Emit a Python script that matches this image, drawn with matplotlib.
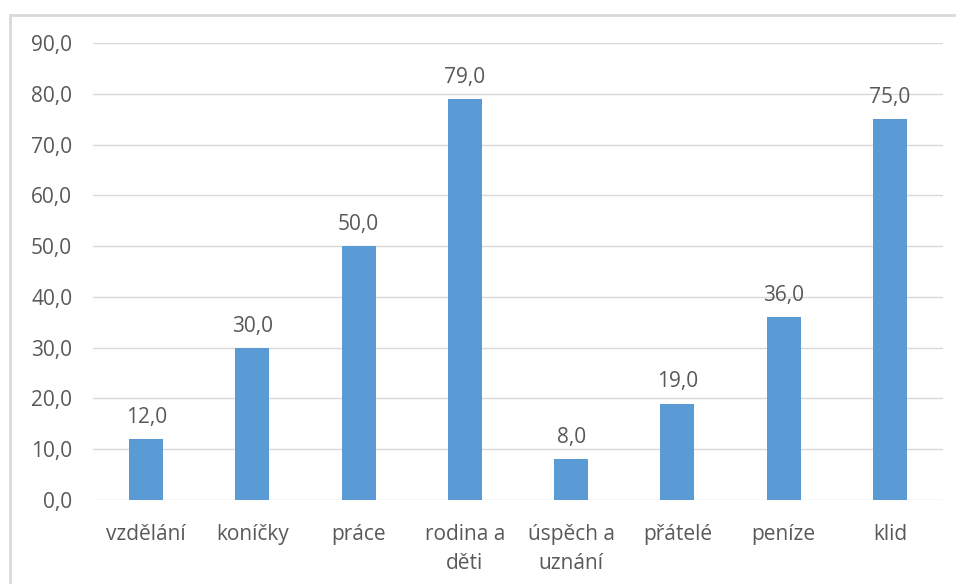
import matplotlib
matplotlib.use("Agg")
import matplotlib.pyplot as plt
from matplotlib.patches import Rectangle

categories = ["vzdělání", "koníčky", "práce", "rodina a\nděti", "úspěch a\nuznání", "přátelé", "peníze", "klid"]
values = [12.0, 30.0, 50.0, 79.0, 8.0, 19.0, 36.0, 75.0]
yticks = [0, 10, 20, 30, 40, 50, 60, 70, 80, 90]

plt.rcParams['font.family'] = ['Open Sans', 'DejaVu Sans']
text_color = "#595959"
grid_color = "#d9d9d9"
bar_color = "#5B9BD5"

fig = plt.figure(figsize=(9.56, 5.84), dpi=100)
ax = fig.add_axes([93/956, 1-500/584, 850/956, 457/584])

x = list(range(len(categories)))
ax.bar(x, values, width=0.32, color=bar_color, zorder=3)
for xi, v in zip(x, values):
    ax.annotate(f"{v:.1f}".replace(".", ","), (xi, v), xytext=(0, 8), textcoords="offset points",
                ha="center", va="bottom", fontsize=15, color=text_color)

ax.set_xlim(-0.5, len(categories) - 0.5)
ax.set_ylim(0, 90)
ax.set_yticks(yticks)
ax.set_yticklabels([f"{t:.1f}".replace(".", ",") for t in yticks])
ax.set_xticks(x)
ax.set_xticklabels(categories, linespacing=1.5)
ax.tick_params(axis="both", length=0, labelsize=15, labelcolor=text_color)
ax.tick_params(axis="y", pad=15)
ax.tick_params(axis="x", pad=17)
ax.grid(axis="y", color=grid_color, linewidth=1, zorder=0)
for s in ax.spines.values():
    s.set_visible(False)

fig.patches.append(Rectangle((10/956, -0.1), 2.0, 1.1 - 15/584, transform=fig.transFigure,
                             fill=False, edgecolor="#d9d9d9", linewidth=2))

fig.savefig("out.png", dpi=100)
